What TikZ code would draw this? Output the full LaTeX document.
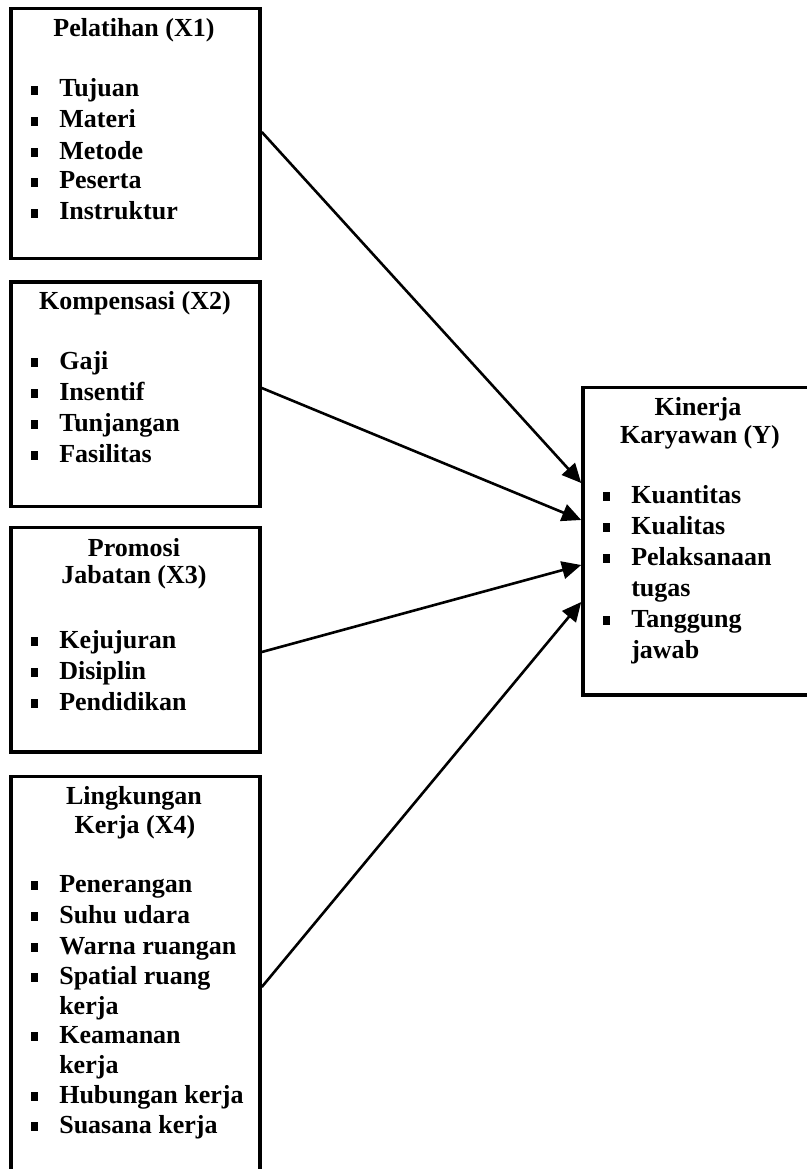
\documentclass[tikz,border=0pt]{standalone}
\usepackage{fontspec}
\setmainfont{Liberation Serif}
\usetikzlibrary{arrows.meta,fit}
\newcommand{\bul}{\makebox[7mm][l]{\rule[0.6mm]{1.7mm}{2.2mm}}}
\tikzset{
  box/.style={draw, line width=0.9mm, inner sep=0pt},
  lbl/.style={inner sep=0pt, font=\fontsize{18.5}{22}\selectfont\bfseries},
  itm/.style={lbl, anchor=base west},
  ttl/.style={lbl, anchor=base},
  link/.style={line width=0.65mm, -{Triangle[length=4.8mm,width=4.4mm]}}
}
\begin{document}
\begin{tikzpicture}[x=0.025cm,y=-0.025cm]
\useasboundingbox (0,0) rectangle (807,1169);

% boxes
\node[box, fit={(11,8.7) (260,258.5)}] (b1) {};
\node[box, fit={(11,282) (260,506.5)}] (b2) {};
\node[box, fit={(11,527.5) (260,752)}] (b3) {};
\node[box, fit={(11,776.5) (260,1210)}] (b4) {};
\node[box, fit={(583,387.5) (820,695)}] (by) {};

% Pelatihan
\node[ttl] (t1) at (134,37) {Pelatihan (X1)};
\node[itm] (p1) at (31,97) {\bul Tujuan};
\node[itm] (p2) at (31,128) {\bul Materi};
\node[itm] (p3) at (31,159) {\bul Metode};
\node[itm] (p4) at (31,189) {\bul Peserta};
\node[itm] (p5) at (31,220) {\bul Instruktur};

% Kompensasi
\node[ttl] (t2) at (135,309) {Kompensasi (X2)};
\node[itm] (k1) at (31,369) {\bul Gaji};
\node[itm] (k2) at (31,400) {\bul Insentif};
\node[itm] (k3) at (31,431) {\bul Tunjangan};
\node[itm] (k4) at (31,462) {\bul Fasilitas};

% Promosi jabatan
\node[ttl] (t3a) at (134,556) {Promosi};
\node[ttl] (t3b) at (134,583) {Jabatan (X3)};
\node[itm] (j1) at (31,648) {\bul Kejujuran};
\node[itm] (j2) at (31,679) {\bul Disiplin};
\node[itm] (j3) at (31,710) {\bul Pendidikan};

% Lingkungan kerja
\node[ttl] (t4a) at (134,804) {Lingkungan};
\node[ttl] (t4b) at (135,833) {Kerja (X4)};
\node[itm] (l1) at (31,892) {\bul Penerangan};
\node[itm] (l2) at (31,923) {\bul Suhu udara};
\node[itm] (l3) at (31,954) {\bul Warna ruangan};
\node[itm] (l4) at (31,984) {\bul Spatial ruang};
\node[itm] (l4b) at (59,1014) {kerja};
\node[itm] (l5) at (31,1043) {\bul Keamanan};
\node[itm] (l5b) at (59,1073) {kerja};
\node[itm] (l6) at (31,1103) {\bul Hubungan kerja};
\node[itm] (l7) at (31,1133) {\bul Suasana kerja};

% Kinerja karyawan
\node[ttl] (ty1) at (698,415) {Kinerja};
\node[ttl] (ty2) at (700,443) {Karyawan (Y)};
\node[itm] (y1) at (603,503) {\bul Kuantitas};
\node[itm] (y2) at (603,534) {\bul Kualitas};
\node[itm] (y3) at (603,565) {\bul Pelaksanaan};
\node[itm] (y3b) at (631,596) {tugas};
\node[itm] (y4) at (603,627) {\bul Tanggung};
\node[itm] (y4b) at (631,658) {jawab};

% arrows
\draw[link] (b1.east |- 0,132) -- (by.west |- 0,483);
\draw[link] (b2.east |- 0,388) -- (by.west |- 0,520);
\draw[link] (b3.east |- 0,652) -- (by.west |- 0,565);
\draw[link] (b4.east |- 0,987) -- (by.west |- 0,602);
\end{tikzpicture}
\end{document}
